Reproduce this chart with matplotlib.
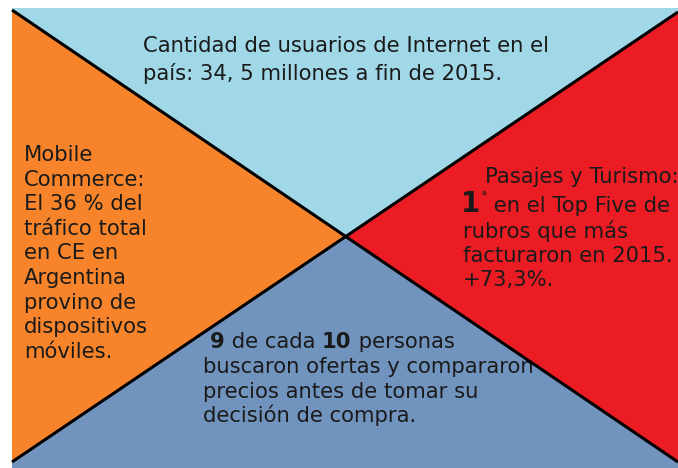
"""
Infographic: comercio electrónico en Argentina 2015 (rectángulo dividido en 4 triángulos).
Output: out.png
"""
import matplotlib
matplotlib.use("Agg")
import matplotlib.pyplot as plt
from matplotlib.patches import Polygon

# --- contenido ---
TOP_LINES = ["Cantidad de usuarios de Internet en el",
             "país: 34, 5 millones a fin de 2015."]
LEFT_LINES = ["Mobile", "Commerce:", "El 36 % del", "tráfico total", "en CE en",
              "Argentina", "provino de", "dispositivos", "móviles."]
RIGHT_TITLE = "Pasajes y Turismo:"
RIGHT_RANK = "1"
RIGHT_LINES = ["en el Top Five de", "rubros que más",
               "facturaron en 2015.", "+73,3%."]
BOTTOM_FIRST = [("9", "bold"), (" de cada ", "normal"), ("10", "bold"), (" personas", "normal")]
BOTTOM_LINES = ["buscaron ofertas y compararon", "precios antes de tomar su",
                "decisión de compra."]

COLORS = {"top": "#A0D8E8", "left": "#F7842A", "right": "#EC1C24", "bottom": "#7194BF"}
TXT = "#1a1a1a"
FS = 15.2

W, H = 678, 468
X0, X1, Y0, Y1 = 12, 678, 8, 468
TL, TR, BL, BR = (X0, 10), (X1, 12), (X0, 462), (X1, 462)


def intersect(p1, p2, p3, p4):
    x1, y1 = p1; x2, y2 = p2; x3, y3 = p3; x4, y4 = p4
    d = (x1 - x2) * (y3 - y4) - (y1 - y2) * (x3 - x4)
    t = ((x1 - x3) * (y3 - y4) - (y1 - y3) * (x3 - x4)) / d
    return (x1 + t * (x2 - x1), y1 + t * (y2 - y1))


C = intersect(TL, BR, TR, BL)

fig = plt.figure(figsize=(6.78, 4.68), dpi=100)
ax = fig.add_axes([0, 0, 1, 1])
ax.set_xlim(0, W)
ax.set_ylim(H, 0)
ax.axis("off")

shapes = {
    "top": [(X0, Y0), (X1, Y0), TR, C, TL],
    "left": [TL, C, BL],
    "right": [TR, C, BR],
    "bottom": [BL, C, BR, (X1, Y1), (X0, Y1)],
}
for k, pts in shapes.items():
    ax.add_patch(Polygon(pts, closed=True, facecolor=COLORS[k], edgecolor="none", zorder=1))

renderer = fig.canvas.get_renderer()


def write_segments(x, y, segments):
    # draws pieces one after another; each piece may be raised by dy pixels
    for s, weight, size, dy in segments:
        t = ax.text(x, y - dy, s, fontsize=size, fontweight=weight, color=TXT,
                    va="baseline", ha="left", zorder=3)
        bb = t.get_window_extent(renderer=renderer)
        x += bb.width * W / fig.bbox.width


# top
for i, line in enumerate(TOP_LINES):
    ax.text(143, 52 + i * 28, line, fontsize=FS, color=TXT, va="baseline", zorder=3)

# left
for i, line in enumerate(LEFT_LINES):
    ax.text(24, 161 + i * 24.6, line, fontsize=FS, color=TXT, va="baseline", zorder=3)

# right
ax.text(485, 183, RIGHT_TITLE, fontsize=FS, color=TXT, va="baseline", zorder=3)
write_segments(461, 212, [(RIGHT_RANK, "bold", 20, 0), ("˚", "normal", 10, 7),
                          (" " + RIGHT_LINES[0], "normal", FS, 0)])
for i, line in enumerate(RIGHT_LINES[1:]):
    ax.text(463, 238 + i * 24, line, fontsize=FS, color=TXT, va="baseline", zorder=3)

# bottom
write_segments(210, 348, [(s, w, FS, 0) for s, w in BOTTOM_FIRST])
for i, line in enumerate(BOTTOM_LINES):
    ax.text(203, 373 + i * 24.6, line, fontsize=FS, color=TXT, va="baseline", zorder=2)

# diagonals
ax.plot([TL[0], BR[0]], [TL[1], BR[1]], color="black", lw=2.2, zorder=4,
        solid_capstyle="butt")
ax.plot([TR[0], BL[0]], [TR[1], BL[1]], color="black", lw=2.2, zorder=4,
        solid_capstyle="butt")

fig.savefig("out.png", dpi=100)
